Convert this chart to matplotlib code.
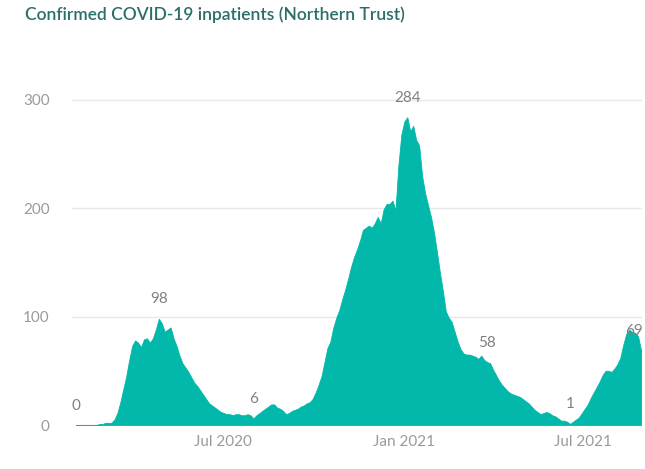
import matplotlib
matplotlib.use("Agg")
import matplotlib.pyplot as plt
import matplotlib.dates as mdates
import pandas as pd
import numpy as np

# ---- data ----
start_date = "2020-02-03"
step_days = 3
inpatients = [
    0, 0, 0, 0, 0, 0, 0, 0, 1, 1,
    2, 2, 2, 5, 11, 21, 33, 45, 60, 73,
    78, 76, 72, 79, 80, 76, 80, 88, 98, 94,
    86, 88, 90, 80, 73, 64, 57, 53, 49, 44,
    39, 36, 32, 28, 24, 20, 18, 16, 14, 12,
    11, 10, 10, 9, 10, 10, 9, 9, 10, 9,
    6, 9, 11, 13, 15, 17, 19, 19, 16, 15,
    13, 10, 11, 13, 14, 15, 17, 18, 20, 21,
    24, 30, 37, 45, 58, 71, 77, 90, 99, 106,
    116, 125, 135, 146, 155, 162, 170, 180, 182, 184,
    182, 186, 192, 186, 199, 204, 204, 207, 198, 240,
    268, 280, 284, 271, 276, 263, 258, 230, 214, 203,
    192, 178, 160, 141, 124, 105, 99, 95, 86, 77,
    70, 66, 65, 65, 64, 63, 61, 64, 60, 58,
    57, 51, 46, 41, 37, 34, 31, 29, 28, 27,
    26, 24, 22, 20, 17, 14, 12, 10, 11, 12,
    11, 9, 8, 6, 4, 4, 3, 1, 3, 5,
    7, 11, 15, 19, 25, 30, 35, 40, 46, 50,
    50, 49, 52, 56, 62, 74, 84, 88, 86, 85,
    82, 69,
]
labelled_idx = [0, 28, 60, 112, 139, 167, 191]
y_ticks = [0, 100, 200, 300]
x_tick_dates = ["2020-07-01", "2021-01-01", "2021-07-01"]
title = "Confirmed COVID-19 inpatients (Northern Trust)"

dates = pd.date_range(start=start_date, periods=len(inpatients), freq=f"{step_days}D")
values = np.array(inpatients, dtype=float)

plt.rcParams['font.family'] = ['Lato', 'DejaVu Sans']

W, H = 645, 469
fig = plt.figure(figsize=(W / 100, H / 100), dpi=100)
ax = fig.add_axes([72 / W, 44 / H, (642 - 72) / W, (425 - 89) / H])

ax.fill_between(dates, values, 0, color="#01B8AA", linewidth=0.6, edgecolor="#01B8AA")

ax.set_ylim(0, 310)
ax.set_xlim(dates[0] - pd.Timedelta(days=4), dates[-1] + pd.Timedelta(days=1))

ax.set_yticks(y_ticks)
ax.set_xticks(pd.to_datetime(x_tick_dates))
ax.xaxis.set_major_formatter(mdates.DateFormatter("%b %Y"))

ax.grid(axis="y", color="#e9e9e9", linewidth=1)
ax.set_axisbelow(True)
for s in ax.spines.values():
    s.set_visible(False)
ax.tick_params(axis="both", length=0, labelsize=11, colors="#9a9a9a")
ax.tick_params(axis="y", pad=16)
ax.tick_params(axis="x", pad=7)

for i in labelled_idx:
    ha = "center"
    dx = 0
    if i == len(values) - 1:
        ha = "right"
        dx = 1
    ax.annotate(f"{int(values[i])}", (dates[i], values[i]), xytext=(dx, 14),
                textcoords="offset points", ha=ha, va="center",
                fontsize=11, color="#808080", annotation_clip=False)

fig.text(25 / W, 1 - 15 / H, title, ha="left", va="center", fontsize=12.5,
         fontweight="semibold", color="#2a6e6a")

fig.savefig("out.png", dpi=100, facecolor="white")
